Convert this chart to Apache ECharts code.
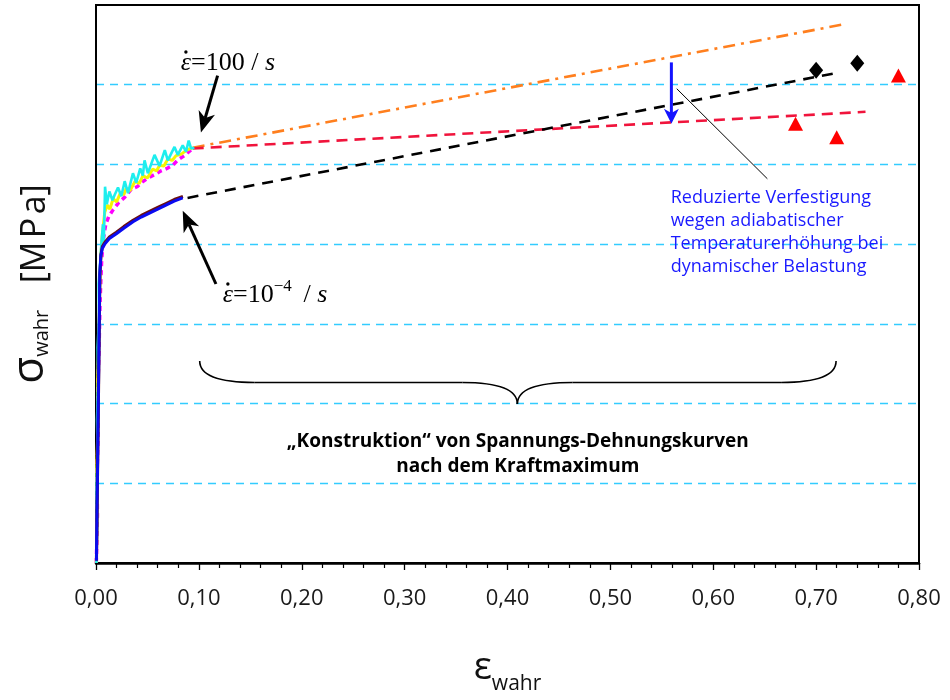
<!DOCTYPE html>
<html><head><meta charset="utf-8">
<script src="https://cdn.jsdelivr.net/npm/echarts@6/dist/echarts.min.js"></script>
<style>html,body{margin:0;padding:0;background:#fff}#c{width:950px;height:700px}</style>
</head><body><div id="c"></div>
<script>
// ---- data (true strain, relative true stress units) ----
const xTickValues = [0, 0.1, 0.2, 0.3, 0.4, 0.5, 0.6, 0.7, 0.8];
const cyanCurve = [[0.0004,0.0],[0.0010,0.5],[0.0006,0.9],[0.0015,1.4],[0.0010,1.8],[0.0022,2.3],[0.0016,2.7],[0.0030,3.1],[0.0026,3.5],[0.0042,3.8],[0.0055,4.05],[0.0068,4.25],[0.0076,4.03],[0.0088,4.72],[0.0105,4.50],[0.0130,4.66],[0.0160,4.55],[0.0182,4.62],[0.0214,4.71],[0.0246,4.60],[0.0279,4.79],[0.0311,4.64],[0.0359,4.89],[0.0391,4.77],[0.0430,4.95],[0.0455,4.86],[0.0472,5.05],[0.0504,4.89],[0.0569,5.12],[0.0618,4.98],[0.0669,5.18],[0.0698,5.05],[0.0763,5.22],[0.0795,5.12],[0.0843,5.24],[0.0875,5.16],[0.0901,5.30],[0.0924,5.20],[0.0956,5.21]];
const yellowCurve = [[0.0003,0.0],[0.0012,0.7],[0.0008,1.2],[0.0020,1.8],[0.0016,2.3],[0.0030,2.9],[0.0035,3.4],[0.0045,3.8],[0.0060,4.10],[0.0085,4.40],[0.0110,4.49],[0.0135,4.44],[0.0166,4.57],[0.0200,4.53],[0.0240,4.65],[0.0270,4.62],[0.0294,4.70],[0.0330,4.67],[0.0380,4.79],[0.0420,4.76],[0.0456,4.86],[0.0500,4.83],[0.0550,4.94],[0.0590,4.92],[0.0618,4.99],[0.0660,4.98],[0.0700,5.07],[0.0740,5.05],[0.0778,5.11],[0.0830,5.13],[0.0880,5.18],[0.0940,5.21]];
const magentaCurve = [[0.0003,0.0],[0.0014,0.6],[0.0010,1.1],[0.0022,1.7],[0.0018,2.2],[0.0030,2.7],[0.0040,3.3],[0.0055,3.8],[0.0070,4.05],[0.0095,4.25],[0.0125,4.35],[0.0166,4.43],[0.0220,4.52],[0.0280,4.59],[0.0343,4.69],[0.0400,4.72],[0.0460,4.79],[0.0521,4.84],[0.0580,4.88],[0.0633,4.92],[0.0690,4.95],[0.0746,4.99],[0.0800,5.06],[0.0860,5.11],[0.0940,5.20]];
const darkCurve = [[0.0005,0.03],[0.0016,1.2],[0.0028,2.5],[0.0038,3.62],[0.0048,3.87],[0.0062,3.97],[0.0085,4.02],[0.0130,4.09],[0.0198,4.15],[0.0270,4.22],[0.0360,4.30],[0.0440,4.36],[0.0520,4.41],[0.0600,4.46],[0.0680,4.51],[0.0760,4.56],[0.0845,4.60]];
const blueCurve = [[0.0004,0.03],[0.0015,1.2],[0.0027,2.5],[0.0037,3.62],[0.0047,3.85],[0.0062,3.95],[0.0085,4.00],[0.0130,4.07],[0.0198,4.13],[0.0270,4.20],[0.0360,4.28],[0.0440,4.34],[0.0520,4.39],[0.0600,4.44],[0.0680,4.49],[0.0760,4.54],[0.0843,4.58]];
const blackExtrapolation = [[0.089,4.58],[0.717,6.14]];
const redExtrapolation = [[0.094,5.20],[0.748,5.66]];
const orangeExtrapolation = [[0.094,5.21],[0.728,6.76]];
const diamondPoints = [[0.700,6.18],[0.740,6.27]];
const trianglePoints = [[0.680,5.51],[0.720,5.34],[0.780,6.115]];

const SANS = "'Open Sans', 'Noto Sans', sans-serif";
const NARROW = "'Liberation Sans Narrow', 'Open Sans', sans-serif";
const SERIF = "'Liberation Serif', 'DejaVu Serif', serif";

const chart = echarts.init(document.getElementById('c'), null, {renderer: 'canvas'});

function lineSeries(data, color, width, type, z) {
  return {type: 'line', data: data, showSymbol: false, symbol: 'none', smooth: false,
    lineStyle: {color: color, width: width, type: type || 'solid'}, z: z || 2, animation: false, silent: true};
}

const option = {
  backgroundColor: '#fff',
  animation: false,
  grid: {left: 93, right: 31, top: 5, bottom: 124, show: true, borderColor: '#000', borderWidth: 2, backgroundColor: 'transparent'},
  xAxis: {
    type: 'value', min: 0, max: 0.8, interval: 0.1,
    axisLine: {show: true, onZero: false, lineStyle: {color: '#000', width: 2.5}},
    axisTick: {show: true, inside: false, length: 7, lineStyle: {color: '#000', width: 1.3}},
    minorTick: {show: true, splitNumber: 5, length: 5, lineStyle: {color: '#000', width: 1.2}},
    splitLine: {show: false},
    axisLabel: {margin: 25, fontSize: 22, fontFamily: NARROW, color: '#1a1a1a',
      formatter: v => { const t = xTickValues.find(q => Math.abs(q - v) < 1e-9); return (t === undefined ? v : t).toFixed(2).replace('.', ','); }},
    name: '{e|ε}{w|wahr}', nameLocation: 'middle', nameGap: 86,
    nameTextStyle: {rich: {
      e: {fontSize: 38, fontFamily: SANS, color: '#111', lineHeight: 46, verticalAlign: 'top'},
      w: {fontSize: 21, fontFamily: SANS, color: '#111', lineHeight: 22, verticalAlign: 'bottom'}
    }}
  },
  yAxis: {
    type: 'value', min: 0, max: 7, interval: 1,
    axisLine: {show: true, lineStyle: {color: '#000', width: 2}},
    axisTick: {show: false}, axisLabel: {show: false},
    splitLine: {show: true, showMinLine: false, showMaxLine: false, lineStyle: {color: '#33ccff', width: 1.3, type: [8, 6]}},
    name: '{s|σ}{w|wahr}{u|   [M\u200aP\u200aa]}', nameLocation: 'middle', nameRotate: 90, nameGap: 44,
    nameTextStyle: {rich: {
      s: {fontSize: 44, fontFamily: SANS, color: '#111', lineHeight: 46, verticalAlign: 'bottom'},
      w: {fontSize: 20, fontFamily: SANS, color: '#111', lineHeight: 24, verticalAlign: 'bottom'},
      u: {fontSize: 34, fontFamily: SANS, color: '#111', lineHeight: 46, verticalAlign: 'bottom'}
    }}
  },
  series: [
    lineSeries(orangeExtrapolation, '#ff7f1e', 2.6, [12, 6, 3, 6], 3),
    lineSeries(redExtrapolation, '#f0143c', 2.6, [11, 7], 3),
    lineSeries(blackExtrapolation, '#000', 2.6, [11, 8], 3),
    lineSeries(magentaCurve, '#ff00ff', 3.5, [5, 4], 4),
    lineSeries(yellowCurve, '#f5f500', 3, 'solid', 5),
    lineSeries(cyanCurve, '#1eeeee', 2.6, 'solid', 6),
    lineSeries(darkCurve, '#6a1010', 3, 'solid', 7),
    lineSeries(blueCurve, '#0a0af0', 3, 'solid', 8),
    {type: 'scatter', data: diamondPoints, symbol: 'diamond', symbolSize: [14, 17], itemStyle: {color: '#000', opacity: 1}, z: 9, silent: true},
    {type: 'scatter', data: trianglePoints, symbol: 'triangle', symbolSize: [15, 14], itemStyle: {color: '#ff0000', opacity: 1}, z: 9, silent: true}
  ]
};
chart.setOption(option);

// ---- annotations placed from data coordinates ----
const P = (x, y) => chart.convertToPixel({gridIndex: 0}, [x, y]);

function arrow(from, to, color, width, headLen, headW, z) {
  const a = P(from[0], from[1]), b = P(to[0], to[1]);
  const dx = b[0] - a[0], dy = b[1] - a[1], L = Math.hypot(dx, dy);
  const ux = dx / L, uy = dy / L, nx = -uy, ny = ux;
  const base = [b[0] - ux * headLen, b[1] - uy * headLen];
  const notch = [b[0] - ux * headLen * 0.72, b[1] - uy * headLen * 0.72];
  return [
    {type: 'line', z: z, shape: {x1: a[0], y1: a[1], x2: notch[0], y2: notch[1]}, style: {stroke: color, lineWidth: width}},
    {type: 'polygon', z: z, shape: {points: [b, [base[0] + nx * headW / 2, base[1] + ny * headW / 2], notch, [base[0] - nx * headW / 2, base[1] - ny * headW / 2]]}, style: {fill: color}}
  ];
}

function brace(xl, xr, xt, yEnd, yMid, yTip) {
  const L = P(xl, yEnd), R = P(xr, yEnd), T = P(xt, yTip), m = P(xl, yMid)[1];
  const c = 55, st = {fill: null, stroke: '#000', lineWidth: 1.6};
  const q = (x1, y1, cx, cy, x2, y2) => ({type: 'bezierCurve', z: 10, shape: {x1: x1, y1: y1, cpx1: cx, cpy1: cy, x2: x2, y2: y2}, style: st});
  return [
    q(L[0], L[1], L[0], m, L[0] + c, m),
    {type: 'line', z: 10, shape: {x1: L[0] + c, y1: m, x2: T[0] - c, y2: m}, style: st},
    q(T[0] - c, m, T[0], m, T[0], T[1]),
    q(T[0], T[1], T[0], m, T[0] + c, m),
    {type: 'line', z: 10, shape: {x1: T[0] + c, y1: m, x2: R[0] - c, y2: m}, style: st},
    q(R[0] - c, m, R[0], m, R[0], R[1])
  ];
}

const mathRich = {
  i: {fontFamily: SERIF, fontStyle: 'italic', fontSize: 26, lineHeight: 30, verticalAlign: 'bottom', fill: '#000'},
  n: {fontFamily: SERIF, fontSize: 26, lineHeight: 30, verticalAlign: 'bottom', fill: '#000'},
  p: {fontFamily: SERIF, fontSize: 17, lineHeight: 17, verticalAlign: 'top', fill: '#000'}
};
const t100 = P(0.0824, 6.295), d100 = P(0.0874, 6.41);
const t104 = P(0.1232, 3.39), d104 = P(0.1282, 3.50);
const tBlue = P(0.5586, 4.72), tBold = P(0.41, 1.36);
const lnA = P(0.5645, 5.95), lnB = P(0.6526, 4.82);
const graphics = [].concat(
  arrow([0.1182, 6.115], [0.1020, 5.40], '#000', 3, 21, 17, 20),
  arrow([0.1166, 3.50], [0.0843, 4.42], '#000', 3, 21, 17, 20),
  arrow([0.5593, 6.28], [0.5593, 5.51], '#1414ff', 3, 15, 15, 20),
  brace(0.1008, 0.7194, 0.4096, 2.533, 2.264, 1.994),
  [
    {type: 'line', z: 20, shape: {x1: lnA[0], y1: lnA[1], x2: lnB[0], y2: lnB[1]}, style: {stroke: '#000', lineWidth: 1}},
    {type: 'text', z: 20, x: t100[0], y: t100[1], style: {
      text: '{i|ε}{n|=100 / }{i|s}', align: 'left', verticalAlign: 'middle', rich: mathRich}},
    {type: 'circle', z: 20, shape: {cx: d100[0], cy: d100[1], r: 1.7}, style: {fill: '#000'}},
    {type: 'text', z: 20, x: t104[0], y: t104[1], style: {
      text: '{i|ε}{n|=10}{p|−4}{n| \u2009/ }{i|s}', align: 'left', verticalAlign: 'middle', rich: mathRich}},
    {type: 'circle', z: 20, shape: {cx: d104[0], cy: d104[1], r: 1.7}, style: {fill: '#000'}},
    {type: 'text', z: 20, x: tBlue[0], y: tBlue[1], style: {
      text: 'Reduzierte Verfestigung\nwegen adiabatischer\nTemperaturerhöhung bei\ndynamischer Belastung',
      align: 'left', verticalAlign: 'top', fontFamily: SANS, fontSize: 18, lineHeight: 23, fill: '#1a1aff'}},
    {type: 'text', z: 20, x: tBold[0], y: tBold[1], style: {
      text: '„Konstruktion“ von Spannungs-Dehnungskurven\nnach dem Kraftmaximum',
      align: 'center', verticalAlign: 'middle', fontFamily: SANS, fontWeight: 'bold', fontSize: 19, lineHeight: 25, fill: '#000'}}
  ]
);
chart.setOption({graphic: graphics});
</script>
</body></html>
